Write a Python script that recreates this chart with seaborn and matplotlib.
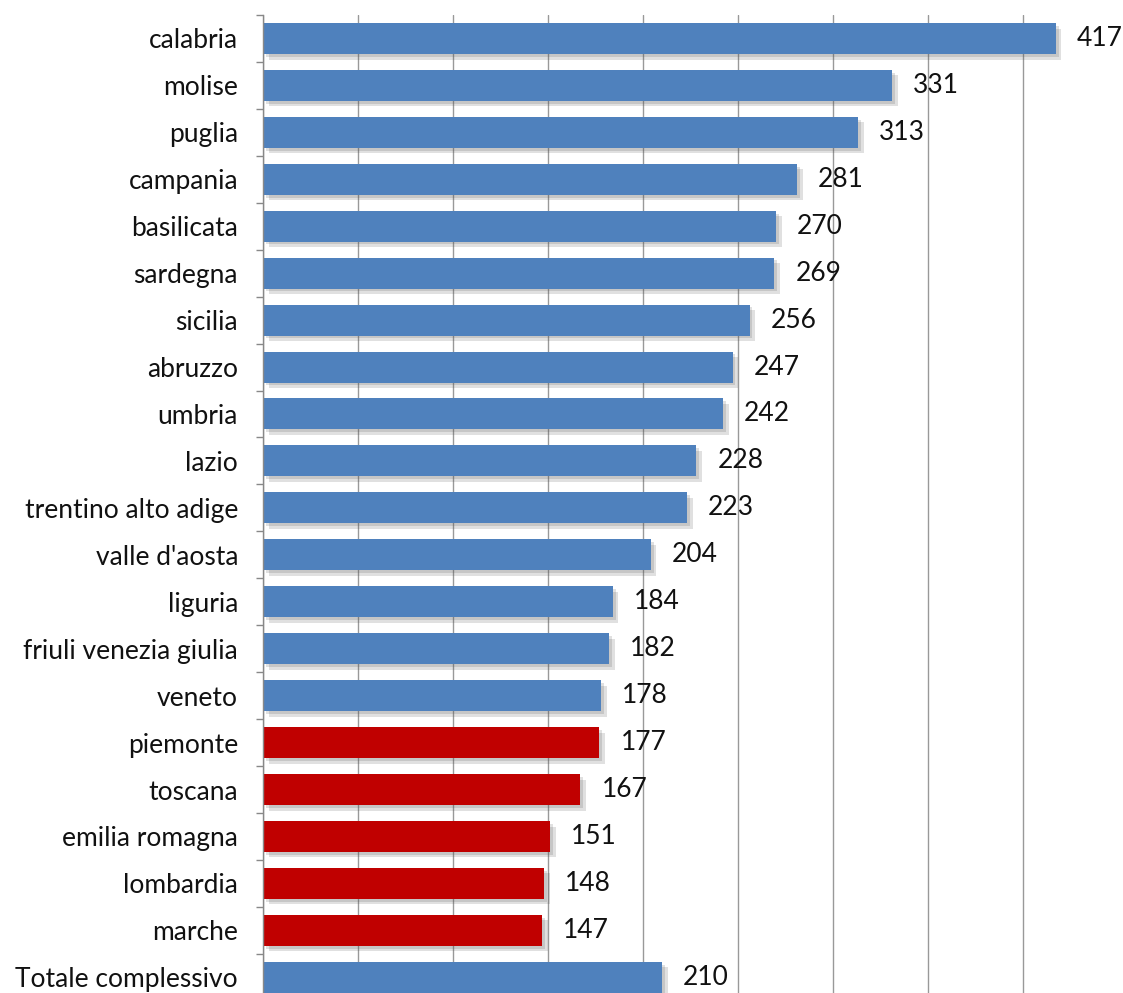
import numpy as np
import pandas as pd
import matplotlib
matplotlib.use('agg')
import matplotlib.pyplot as plt
import matplotlib.patheffects as pe
import seaborn as sns

regions = ["calabria", "molise", "puglia", "campania", "basilicata", "sardegna",
           "sicilia", "abruzzo", "umbria", "lazio", "trentino alto adige",
           "valle d'aosta", "liguria", "friuli venezia giulia", "veneto",
           "piemonte", "toscana", "emilia romagna", "lombardia", "marche",
           "Totale complessivo"]
values = [417, 331, 313, 281, 270, 269, 256, 247, 242, 228, 223,
          204, 184, 182, 178, 177, 167, 151, 148, 147, 210]
groups = ["sopra"] * 15 + ["sotto"] * 5 + ["totale"]

palette = {"sopra": "#4F81BD", "sotto": "#C00000", "totale": "#4F81BD"}

df = pd.DataFrame({"region": regions, "value": values, "group": groups})

sns.set_style("white")
plt.rcParams['font.family'] = ['Lato', 'DejaVu Sans']

fig = plt.figure(figsize=(11.23, 9.93), dpi=100)
ax = fig.add_axes([263 / 1123, -0.0078, 865 / 1123, 0.9927])

sns.barplot(data=df, y="region", x="value", hue="group", palette=palette,
            dodge=False, legend=False, width=0.66, orient="h", ax=ax,
            saturation=1)

# soft drop shadow under the bars
for bar in ax.patches:
    bar.set_path_effects([pe.SimplePatchShadow(offset=(4, -4), shadow_rgbFace="#555555", alpha=0.18),
                          pe.SimplePatchShadow(offset=(2, -2), shadow_rgbFace="#555555", alpha=0.18),
                          pe.Normal()])
    bar.set_edgecolor("none")

for i, v in enumerate(values):
    ax.text(v + 11, i, str(v), va="center", ha="left", fontsize=19, color="#111111")

ax.set_xlim(0, 455)
ax.set_ylim(20.5, -0.5)
ax.set_xticks(np.arange(0, 401, 50))
ax.set_xticklabels([])
ax.tick_params(axis="x", length=0)
ax.grid(axis="x", color="#999999", linewidth=1)
ax.set_axisbelow(True)

ax.set_yticks(np.arange(-0.5, 21, 1), minor=True)
ax.tick_params(axis="y", which="major", length=0, pad=18, labelsize=19, labelcolor="#111111")
ax.tick_params(axis="y", which="minor", length=5, width=1, color="#888888", left=True)

for s in ["top", "right", "bottom"]:
    ax.spines[s].set_visible(False)
ax.spines["left"].set_color("#888888")
ax.spines["left"].set_linewidth(1)

ax.set_xlabel("")
ax.set_ylabel("")

fig.savefig("out.png", dpi=100)
